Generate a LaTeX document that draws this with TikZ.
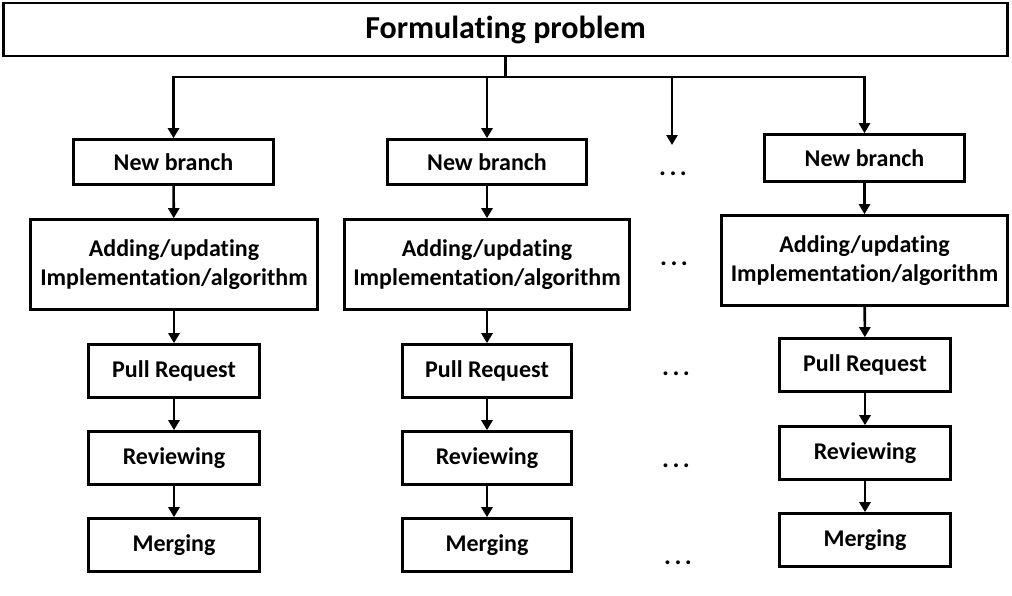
\documentclass[tikz,border=0pt]{standalone}
\usepackage{fontspec}
\setmainfont{Carlito}[Ligatures=NoCommon]
\usetikzlibrary{arrows.meta}
\begin{document}
\begin{tikzpicture}[x=1pt,y=-1pt,
  box/.style={draw,line width=2.6pt,inner sep=0pt,align=center,font=\fontsize{24}{28.5}\selectfont\bfseries},
  arr/.style={line width=2.6pt,-{Triangle[width=11pt,length=10pt]}},
  ln/.style={line width=2.6pt},
  dots/.style={font=\fontsize{26}{28}\selectfont\bfseries,inner sep=0pt}]
\useasboundingbox (0,0) rectangle (1012,595);
\node[box,minimum width=1004pt,minimum height=53pt,font=\fontsize{32}{36}\selectfont\bfseries] (top) at (505.5,29.5) {Formulating problem};
% column 1
\node[box,minimum width=200pt,minimum height=45pt] (nb1) at (173.5,162) {New branch};
\node[box,minimum width=287pt,minimum height=90pt] (ad1) at (174,264.5) {Adding/updating\\Implementation/algorithm};
\node[box,minimum width=171pt,minimum height=53pt] (pr1) at (174,371) {Pull Request};
\node[box,minimum width=171pt,minimum height=53pt] (rv1) at (174,458) {Reviewing};
\node[box,minimum width=171pt,minimum height=53pt] (mg1) at (174,545) {Merging};
% column 2
\node[box,minimum width=199pt,minimum height=45pt] (nb2) at (487,162) {New branch};
\node[box,minimum width=285pt,minimum height=90pt] (ad2) at (487,264.5) {Adding/updating\\Implementation/algorithm};
\node[box,minimum width=169pt,minimum height=53pt] (pr2) at (487,371) {Pull Request};
\node[box,minimum width=169pt,minimum height=53pt] (rv2) at (487,458) {Reviewing};
\node[box,minimum width=169pt,minimum height=53pt] (mg2) at (487,545) {Merging};
% column 3
\node[box,minimum width=200pt,minimum height=47pt] (nb3) at (864.5,158) {New branch};
\node[box,minimum width=286pt,minimum height=90pt] (ad3) at (864.5,260.5) {Adding/updating\\Implementation/algorithm};
\node[box,minimum width=171pt,minimum height=53pt] (pr3) at (865,365) {Pull Request};
\node[box,minimum width=171pt,minimum height=53pt] (rv3) at (865,453) {Reviewing};
\node[box,minimum width=171pt,minimum height=53pt] (mg3) at (865,540) {Merging};
% dots
\node[dots] (e1) at (673,174) {.\hspace{3.5pt}.\hspace{3.5pt}.};
\node[dots] (e2) at (674,264) {.\hspace{3.5pt}.\hspace{3.5pt}.};
\node[dots] (e3) at (676,374) {.\hspace{3.5pt}.\hspace{3.5pt}.};
\node[dots] (e4) at (676,466) {.\hspace{3.5pt}.\hspace{3.5pt}.};
\node[dots] (e5) at (678,563) {.\hspace{3.5pt}.\hspace{3.5pt}.};
% connectors
\coordinate (j) at (505.5,77);
\coordinate (d0) at (672,145);
\draw[ln] (top.south) -- (j);
\draw[arr] (j) -| (nb1.north);
\draw[arr] (j) -| (nb2.north);
\draw[arr] (j) -| (d0);
\draw[arr] (j) -| (nb3.north);
\foreach \c in {1,2,3}{
  \draw[arr] (nb\c) -- (ad\c);
  \draw[arr] (ad\c) -- (pr\c);
  \draw[arr] (pr\c) -- (rv\c);
  \draw[arr] (rv\c) -- (mg\c);
}
\end{tikzpicture}
\end{document}
